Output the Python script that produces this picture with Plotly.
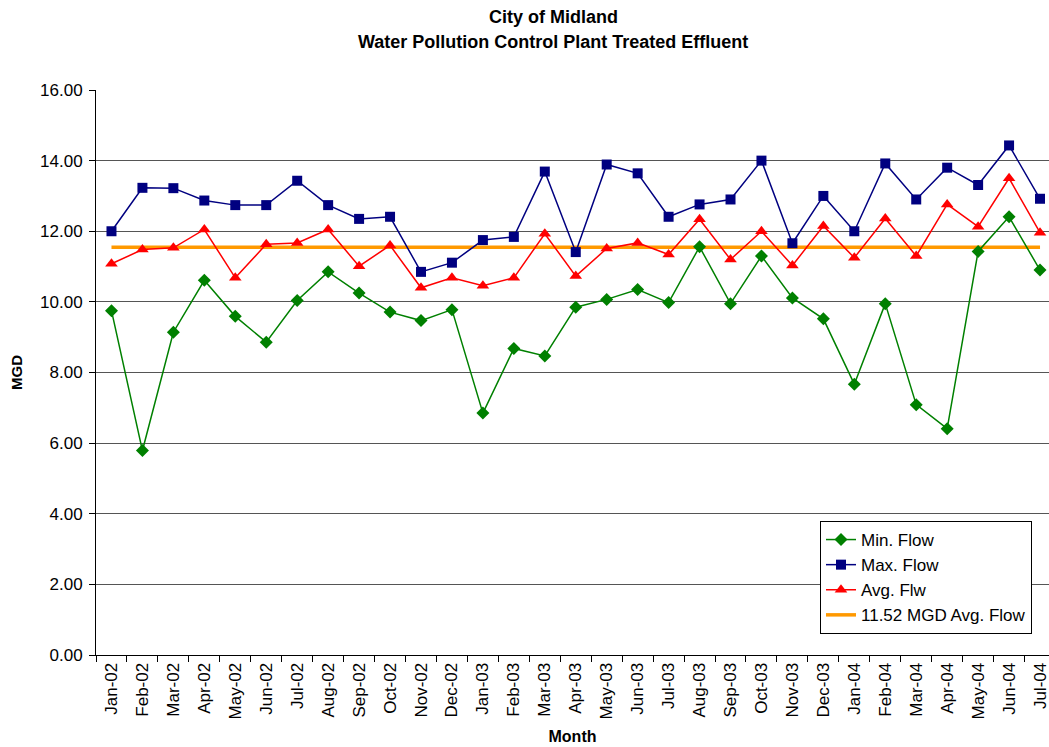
import plotly.graph_objects as go

months = ["Jan-02", "Feb-02", "Mar-02", "Apr-02", "May-02", "Jun-02", "Jul-02", "Aug-02",
          "Sep-02", "Oct-02", "Nov-02", "Dec-02", "Jan-03", "Feb-03", "Mar-03", "Apr-03",
          "May-03", "Jun-03", "Jul-03", "Aug-03", "Sep-03", "Oct-03", "Nov-03", "Dec-03",
          "Jan-04", "Feb-04", "Mar-04", "Apr-04", "May-04", "Jun-04", "Jul-04"]

min_flow = [9.75, 5.79, 9.14, 10.61, 9.59, 8.86, 10.04, 10.85, 10.25, 9.71, 9.47, 9.78,
            6.85, 8.68, 8.47, 9.85, 10.07, 10.35, 9.98, 11.56, 9.95, 11.30, 10.11, 9.52,
            7.67, 9.95, 7.09, 6.41, 11.43, 12.41, 10.90]

max_flow = [12.00, 13.23, 13.22, 12.87, 12.74, 12.74, 13.43, 12.74, 12.35, 12.41, 10.85, 11.11,
            11.75, 11.84, 13.69, 11.41, 13.89, 13.64, 12.41, 12.76, 12.90, 14.00, 11.66, 13.00,
            12.00, 13.92, 12.90, 13.80, 13.31, 14.43, 12.92]

avg_flw = [11.08, 11.48, 11.53, 12.05, 10.68, 11.63, 11.67, 12.05, 11.01, 11.60, 10.40, 10.68,
           10.46, 10.68, 11.93, 10.73, 11.51, 11.67, 11.34, 12.34, 11.20, 12.00, 11.03, 12.15,
           11.25, 12.36, 11.30, 12.76, 12.13, 13.50, 11.96]

overall_avg = 11.55
overall_avg_line = [overall_avg] * len(months)

title_lines = ["City of Midland", "Water Pollution Control Plant Treated Effluent"]

FONT = "Liberation Sans, Arial, sans-serif"

W, H = 1049, 747
ML, MR, MT, MB = 96, 0, 90, 92

fig = go.Figure()

fig.add_trace(go.Scatter(
    x=months, y=overall_avg_line, name="11.52 MGD Avg. Flow", mode="lines",
    line=dict(color="#FF9900", width=3.5), legendrank=4))

fig.add_trace(go.Scatter(
    x=months, y=min_flow, name="Min. Flow", mode="lines+markers",
    line=dict(color="#008000", width=1.5),
    marker=dict(symbol="diamond", size=10, color="#008000"), legendrank=1))

fig.add_trace(go.Scatter(
    x=months, y=max_flow, name="Max. Flow", mode="lines+markers",
    line=dict(color="#000080", width=1.5),
    marker=dict(symbol="square", size=10, color="#000080"), legendrank=2))

fig.add_trace(go.Scatter(
    x=months, y=avg_flw, name="Avg. Flw", mode="lines+markers",
    line=dict(color="#FF0000", width=1.5),
    marker=dict(symbol="triangle-up", size=11, color="#FF0000"), legendrank=3))

plot_h = H - MT - MB
plot_w = W - ML - MR

fig.update_layout(
    width=W, height=H,
    paper_bgcolor="white", plot_bgcolor="white",
    margin=dict(l=ML, r=MR, t=MT, b=MB, pad=0),
    font=dict(family=FONT, size=17, color="black"),
    showlegend=True,
    legend=dict(
        x=(820 - ML) / plot_w, y=(655 - 521) / plot_h, xanchor="left", yanchor="top",
        bgcolor="white", bordercolor="black", borderwidth=1,
        font=dict(family=FONT, size=17, color="black"),
        traceorder="normal"),
    xaxis=dict(
        type="category", range=[-0.5, 30.29],
        tickangle=-90, tickson="boundaries",
        ticks="outside", ticklen=6, tickcolor="black",
        showline=True, linecolor="black", linewidth=1,
        showgrid=False, zeroline=False, automargin=False,
        tickfont=dict(family=FONT, size=17, color="black"),
        title=dict(text="<b>Month</b>", font=dict(family=FONT, size=16, color="black"), standoff=12)),
    yaxis=dict(
        range=[0, 16], dtick=2, tickformat=".2f",
        ticks="outside", ticklen=6, tickcolor="black",
        showline=True, linecolor="black", linewidth=1,
        showgrid=True, gridcolor="#555555", gridwidth=1,
        zeroline=False, automargin=False, ticklabelstandoff=3,
        tickfont=dict(family=FONT, size=17, color="black"),
        title=dict(text="<b>MGD</b>", font=dict(family=FONT, size=15, color="black"), standoff=13)),
)

for line, ypage in zip(title_lines, [17, 42]):
    fig.add_annotation(
        text="<b>" + line + "</b>", showarrow=False,
        xref="paper", yref="paper",
        x=(553 - ML) / plot_w, y=(655 - ypage) / plot_h,
        xanchor="center", yanchor="middle",
        font=dict(family=FONT, size=18, color="black"))

fig.write_html("out.html", config={"displayModeBar": False},
               post_script="document.body.style.margin='0px';")
